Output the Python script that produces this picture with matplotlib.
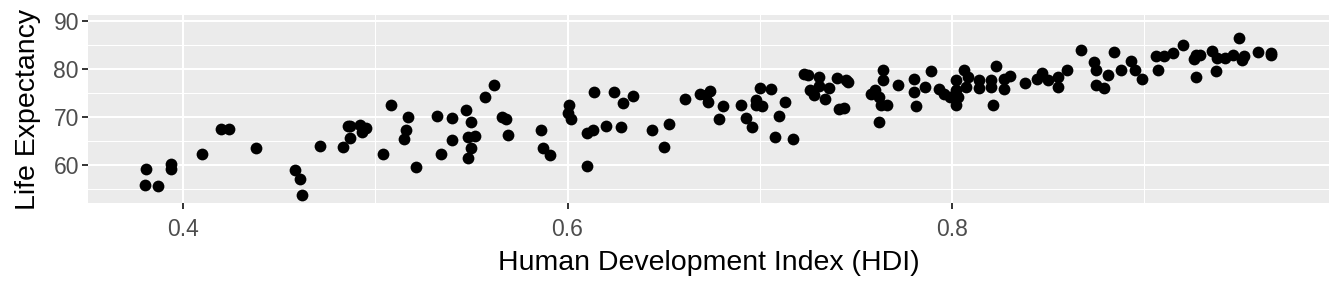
import matplotlib
matplotlib.use("Agg")
import matplotlib.pyplot as plt
import numpy as np

# HDI vs life expectancy
hdi = [0.380, 0.381, 0.387, 0.394, 0.394, 0.410, 0.420, 0.424, 0.438, 0.458,
       0.461, 0.462, 0.471, 0.483, 0.486, 0.487, 0.487, 0.492, 0.493, 0.495,
       0.504, 0.508, 0.515, 0.516, 0.517, 0.521, 0.532, 0.534, 0.540, 0.540,
       0.547, 0.548, 0.548, 0.550, 0.550, 0.552, 0.557, 0.562, 0.566, 0.568,
       0.569, 0.586, 0.587, 0.591, 0.601, 0.600, 0.602, 0.610, 0.613, 0.610,
       0.614, 0.620, 0.624, 0.628, 0.629, 0.634, 0.644, 0.650, 0.653, 0.661,
       0.669, 0.672, 0.674, 0.673, 0.679, 0.681, 0.690, 0.693, 0.696, 0.698,
       0.698, 0.700, 0.701, 0.706, 0.708, 0.710, 0.713, 0.717, 0.723, 0.725,
       0.726, 0.728, 0.731, 0.731, 0.734, 0.736, 0.740, 0.741, 0.744, 0.745,
       0.746, 0.758, 0.760, 0.762, 0.764, 0.764, 0.763, 0.766, 0.762, 0.772,
       0.780, 0.780, 0.781, 0.786, 0.789, 0.793, 0.796, 0.799, 0.802, 0.802,
       0.803, 0.802, 0.806, 0.807, 0.808, 0.814, 0.814, 0.820, 0.820, 0.821,
       0.823, 0.827, 0.827, 0.830, 0.838, 0.844, 0.847, 0.850, 0.855, 0.855,
       0.860, 0.867, 0.874, 0.875, 0.875, 0.879, 0.881, 0.884, 0.888, 0.893,
       0.895, 0.899, 0.906, 0.907, 0.910, 0.915, 0.920, 0.926, 0.927, 0.929,
       0.927, 0.935, 0.937, 0.938, 0.942, 0.946, 0.949, 0.951, 0.952, 0.959,
       0.966, 0.966]
life_exp = [55.8, 59.2, 55.6, 60.2, 59.2, 62.4, 67.5, 67.5, 63.5, 59.0,
            57.1, 53.75, 64.0, 63.8, 68.1, 68.1, 65.6, 68.3, 66.9, 67.8,
            62.3, 72.5, 65.4, 67.3, 70.1, 59.6, 70.2, 62.3, 69.7, 65.2,
            71.5, 65.9, 61.4, 69.0, 63.5, 66.0, 74.2, 76.7, 70.1, 69.5,
            66.25, 67.3, 63.5, 62.1, 72.5, 70.8, 69.5, 66.7, 67.3, 59.8,
            75.3, 68.2, 75.3, 68.0, 73.0, 74.4, 67.3, 63.8, 68.5, 73.75,
            74.8, 74.6, 75.5, 73.2, 69.5, 72.4, 72.5, 69.7, 68.0, 73.5,
            72.5, 76.0, 72.3, 75.8, 65.75, 70.2, 73.2, 65.4, 79.0, 78.75,
            75.6, 74.6, 78.3, 76.5, 73.7, 76.0, 78.1, 71.6, 71.8, 77.7,
            77.4, 74.9, 75.6, 74.2, 79.8, 77.7, 72.5, 72.5, 68.9, 76.7,
            78.0, 75.3, 72.4, 76.2, 79.5, 75.8, 74.7, 74.2, 77.7, 75.6,
            74.2, 72.5, 79.8, 76.3, 78.4, 77.7, 76.0, 77.7, 76.2, 72.5,
            80.6, 75.8, 77.85, 78.5, 77.15, 77.85, 79.2, 77.7, 78.3, 76.2,
            79.8, 84.0, 81.5, 79.8, 76.7, 76.0, 78.75, 83.5, 79.9, 81.7,
            79.8, 77.85, 82.7, 79.8, 82.7, 83.4, 85.0, 82.0, 82.9, 82.9,
            78.4, 83.8, 79.65, 82.2, 82.2, 82.9, 86.5, 81.9, 82.7, 83.6,
            83.3, 82.9]

x_ticks = [0.4, 0.6, 0.8]
x_minor = [0.5, 0.7, 0.9]
y_ticks = [60, 70, 80, 90]
y_minor = [55, 65, 75, 85]

plt.rcParams['font.family'] = ['Liberation Sans', 'DejaVu Sans']

fig = plt.figure(figsize=(13.44, 2.88), dpi=100)
ax = fig.add_axes((88 / 1344, 1 - 203 / 288, (1329 - 88) / 1344, (203 - 15) / 288))

ax.set_facecolor('#EBEBEB')
for s in ax.spines.values():
    s.set_visible(False)

ax.set_xlim(0.3506, 0.996)
ax.set_ylim(52.1, 91.25)
ax.set_xticks(x_ticks)
ax.set_xticklabels([str(t) for t in x_ticks])
ax.set_xticks(x_minor, minor=True)
ax.set_yticks(y_ticks)
ax.set_yticks(y_minor, minor=True)

ax.grid(which='major', color='white', linewidth=1.5)
ax.grid(which='minor', color='white', linewidth=0.75)
ax.set_axisbelow(True)
ax.tick_params(which='major', length=4, width=1.4, color='#333333',
               labelcolor='#4D4D4D', labelsize=16.5)
ax.tick_params(axis='x', which='major', pad=7)
ax.tick_params(axis='y', which='major', pad=2.5)
ax.tick_params(which='minor', length=0)

ax.scatter(hdi, life_exp, s=72, color='black', linewidths=0, zorder=3)

ax.set_xlabel('Human Development Index (HDI)', fontsize=20.5, color='black', labelpad=6)
ax.set_ylabel('Life Expectancy', fontsize=20.5, color='black', labelpad=9)

fig.savefig('out.png', dpi=100)
